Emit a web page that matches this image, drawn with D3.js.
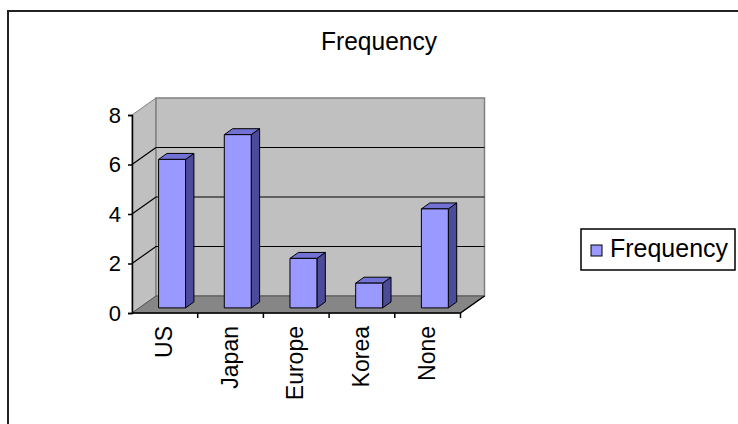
<!DOCTYPE html>
<html>
<head>
<meta charset="utf-8">
<script src="https://cdn.jsdelivr.net/npm/d3@7"></script>
<style>
  html, body { margin: 0; padding: 0; background: #fff; }
  svg { display: block; font-family: "Liberation Sans", Arial, sans-serif; }
</style>
</head>
<body>
<svg id="chart" width="738" height="424"></svg>
<script>
// Survey counts by region
const categories = ["US", "Japan", "Europe", "Korea", "None"];
const frequency = [6, 7, 2, 1, 4];
const yTicks = [0, 2, 4, 6, 8];
const seriesName = "Frequency";
const chartTitle = "Frequency";

const svg = d3.select("#chart");

// 3D depth offset (full depth of the plot box)
const DX = 24, DY = -17;
const off = t => [DX * t, DY * t];

const x = d3.scaleBand().domain(categories).range([132, 460.5]);
const y = d3.scaleLinear().domain([0, 8]).range([313, 115]);

// Outer chart area frame
svg.append("rect")
  .attr("x", 8).attr("y", 11).attr("width", 800).attr("height", 500)
  .attr("fill", "none").attr("stroke", "#222").attr("stroke-width", 2);

// Title
svg.append("text")
  .attr("x", 379).attr("y", 50)
  .attr("text-anchor", "middle")
  .attr("font-size", 25)
  .attr("textLength", 116).attr("lengthAdjust", "spacingAndGlyphs")
  .attr("fill", "#000")
  .text(chartTitle);

const x0 = x.range()[0], x1 = x.range()[1];
const yb = y(0), yt = y(8);
const pts = a => a.map(p => p.join(",")).join(" ");

// Side wall
svg.append("polygon")
  .attr("points", pts([[x0, yb], [x0, yt], [x0 + DX, yt + DY], [x0 + DX, yb + DY]]))
  .attr("fill", "#c0c0c0").attr("stroke", "#808080").attr("stroke-width", 1);

// Back wall
svg.append("rect")
  .attr("x", x0 + DX).attr("y", yt + DY)
  .attr("width", x1 - x0).attr("height", yb - yt)
  .attr("fill", "#c0c0c0").attr("stroke", "#808080").attr("stroke-width", 1.5);

// Floor
svg.append("polygon")
  .attr("points", pts([[x0, yb], [x1, yb], [x1 + DX, yb + DY], [x0 + DX, yb + DY]]))
  .attr("fill", "#868686").attr("stroke", "#555").attr("stroke-width", 1);

// Gridlines on back and side walls
const grid = svg.append("g").attr("stroke", "#000").attr("stroke-width", 1.2).attr("fill", "none");
yTicks.filter(v => v > 0 && v < 8).forEach(v => {
  grid.append("line")
    .attr("x1", x0 + DX).attr("x2", x1 + DX)
    .attr("y1", y(v) + DY).attr("y2", y(v) + DY);
  grid.append("line")
    .attr("x1", x0).attr("y1", y(v))
    .attr("x2", x0 + DX).attr("y2", y(v) + DY);
});

// Bars drawn as 3D columns
const bw = x.bandwidth() * 0.41;
const dFront = 0.3, dBack = 0.65;
const bars = svg.append("g").attr("stroke", "#000").attr("stroke-width", 1).attr("stroke-linejoin", "round");
categories.forEach((c, i) => {
  const v = frequency[i];
  const [fx, fy] = off(dFront);
  const [bx, by] = off(dBack);
  const left = x(c) + x.bandwidth() / 2 - bw / 2 + fx;
  const right = left + bw;
  const bottom = y(0) + fy;
  const top = y(v) + fy;
  const ddx = bx - fx, ddy = by - fy;
  // right side face
  bars.append("polygon")
    .attr("points", pts([[right, bottom], [right, top], [right + ddx, top + ddy], [right + ddx, bottom + ddy]]))
    .attr("fill", "#4b4b99");
  // top face
  bars.append("polygon")
    .attr("points", pts([[left, top], [right, top], [right + ddx, top + ddy], [left + ddx, top + ddy]]))
    .attr("fill", "#7272d4");
  // front face
  bars.append("rect")
    .attr("x", left).attr("y", top)
    .attr("width", bw).attr("height", bottom - top)
    .attr("fill", "#9999ff");
});

// Y axis
const yAxis = svg.append("g")
  .attr("transform", `translate(${x0},0)`)
  .call(d3.axisLeft(y).tickValues(yTicks).tickSize(4).tickPadding(7).tickFormat(d3.format("d")));
yAxis.select(".domain").attr("stroke", "#000").attr("stroke-width", 1.5);
yAxis.selectAll(".tick line").attr("stroke", "#000").attr("stroke-width", 1.5);
yAxis.selectAll(".tick text").attr("font-size", 22).attr("fill", "#000")
  .attr("font-family", "'Liberation Sans', Arial, sans-serif");

// X axis line, boundary ticks and right floor edge
const xa = svg.append("g").attr("stroke", "#000").attr("stroke-width", 1.5);
xa.append("line").attr("x1", x0).attr("x2", x1).attr("y1", yb).attr("y2", yb);
categories.forEach(c => {
  const bx = x(c) + x.bandwidth();
  xa.append("line").attr("x1", bx).attr("x2", bx).attr("y1", yb).attr("y2", yb + 5);
});
xa.append("line").attr("x1", x1).attr("y1", yb).attr("x2", x1 + DX).attr("y2", yb + DY);

// Category labels, rotated
svg.append("g").selectAll("text")
  .data(categories)
  .join("text")
  .attr("transform", d => `translate(${x(d) + x.bandwidth() / 2 + 7},326) rotate(-90)`)
  .attr("text-anchor", "end")
  .attr("font-size", 23)
  .attr("fill", "#000")
  .text(d => d);

// Legend
const lg = svg.append("g");
lg.append("rect")
  .attr("x", 581).attr("y", 229).attr("width", 154).attr("height", 41)
  .attr("fill", "#fff").attr("stroke", "#000").attr("stroke-width", 1.5);
lg.append("rect")
  .attr("x", 591).attr("y", 245).attr("width", 11).attr("height", 11)
  .attr("fill", "#9999ff").attr("stroke", "#000").attr("stroke-width", 1);
lg.append("text")
  .attr("x", 610).attr("y", 257)
  .attr("font-size", 25)
  .attr("textLength", 118).attr("lengthAdjust", "spacingAndGlyphs")
  .attr("fill", "#000")
  .text(seriesName);
</script>
</body>
</html>
